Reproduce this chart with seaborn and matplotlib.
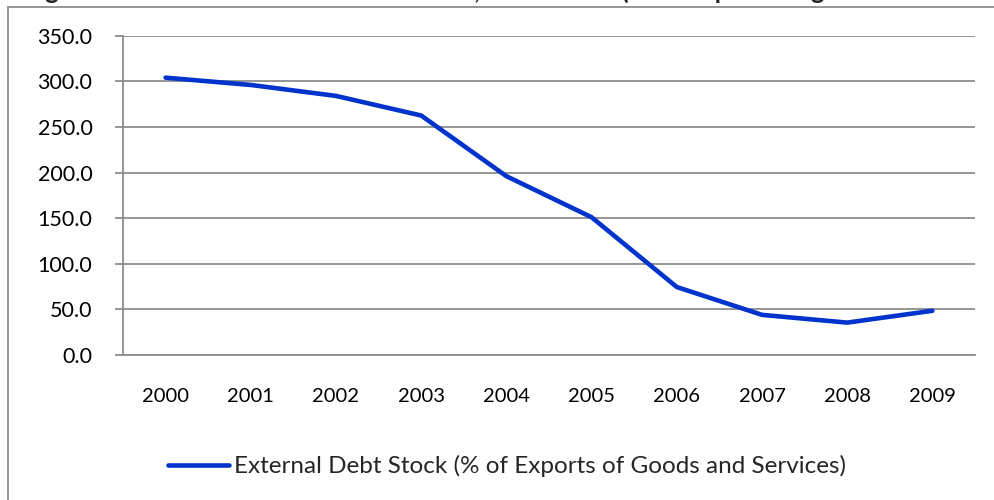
import seaborn as sns
import matplotlib.pyplot as plt
import pandas as pd
from matplotlib.lines import Line2D

# values
years = ["2000", "2001", "2002", "2003", "2004", "2005", "2006", "2007", "2008", "2009"]
debt_pct_exports = [304.0, 296.0, 284.0, 262.5, 196.0, 151.0, 74.5, 44.0, 35.5, 48.5]
series_name = "External Debt Stock (% of Exports of Goods and Services)"
title = "Figure 3: Trends in External Debt Stock, 2000-2009 (% of Exports of goods and services)"
y_ticks = [0, 50, 100, 150, 200, 250, 300, 350]

df = pd.DataFrame({"year": years, "value": debt_pct_exports})

sns.set_style("white")
plt.rcParams["font.family"] = ["Lato", "DejaVu Sans"]

fig = plt.figure(figsize=(9.95, 5), dpi=100)
ax = fig.add_axes([123 / 995, 1 - 355 / 500, (975 - 123) / 995, (355 - 35.7) / 500])

sns.lineplot(data=df, x="year", y="value", ax=ax, color="#0033CC",
             linewidth=3.3, label=series_name, sort=False)
ax.lines[0].set_solid_capstyle("round")

grey = "#8c8c8c"
ax.set_xlim(-0.5, len(years) - 0.5)
ax.set_ylim(0, 350)
ax.set_yticks(y_ticks)
ax.set_yticklabels([f"{v:.1f}" for v in y_ticks])
ax.set_xticks(range(len(years)))
ax.set_xticklabels(years)
ax.set_xticks([i - 0.5 for i in range(len(years) + 1)], minor=True)
ax.tick_params(axis="x", which="major", length=0, pad=24, labelsize=14.5, colors="black")
ax.tick_params(axis="x", which="minor", length=6, width=1.3, color=grey, direction="out")
ax.tick_params(axis="y", length=6, width=1.3, color=grey, pad=16, labelsize=15.5,
               labelcolor="black", left=True)
ax.yaxis.grid(True, color=grey, linewidth=1.3)
ax.set_axisbelow(True)
for s in ["top", "right"]:
    ax.spines[s].set_visible(False)
for s in ["left", "bottom"]:
    ax.spines[s].set_color(grey)
    ax.spines[s].set_linewidth(1.3)
ax.set_xlabel("")
ax.set_ylabel("")

ax.legend(loc="center", bbox_to_anchor=(507 / 995, 1 - 466 / 500), bbox_transform=fig.transFigure,
          frameon=False, fontsize=17.5, handlelength=2.5, handletextpad=0.2)

# outer chart border (only left and top edges are inside the picture)
fig.add_artist(Line2D([8 / 995, 8 / 995], [0, 1 - 7 / 500], color=grey, linewidth=1.3))
fig.add_artist(Line2D([8 / 995, 1], [1 - 7 / 500, 1 - 7 / 500], color=grey, linewidth=1.3))

# title sits mostly above the picture, only descenders show
fig.text(24 / 995, 1 + 1 / 500, title, fontsize=18.5, fontweight="bold", va="baseline", ha="left")

fig.savefig("out.png", dpi=100)
